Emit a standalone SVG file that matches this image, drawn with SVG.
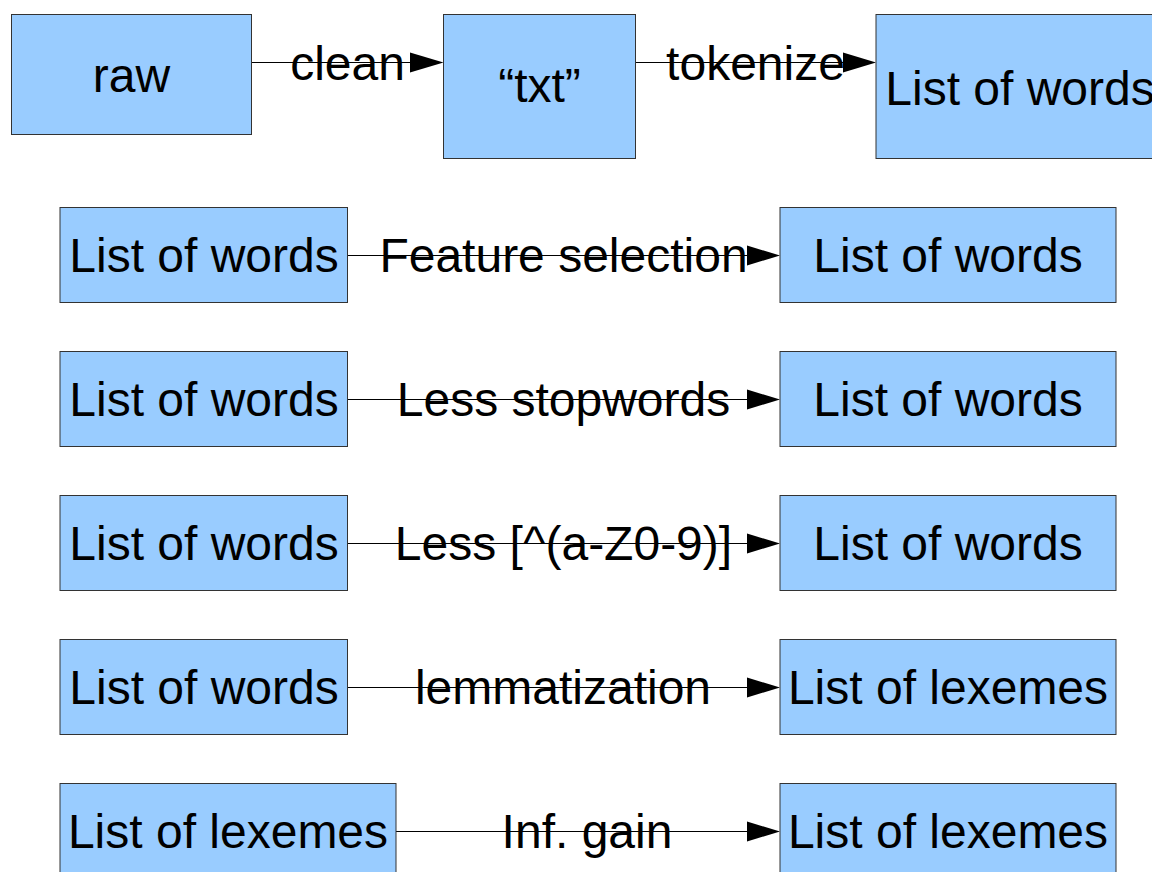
<svg xmlns="http://www.w3.org/2000/svg" width="1152" height="872" viewBox="0 0 1152 872">
<style>
.box{fill:#99ccff;stroke:#333333;stroke-width:1}
.t{font-family:"Liberation Sans",Arial,sans-serif;font-size:48px;fill:#000;text-anchor:middle}
.l{font-family:"Liberation Sans",Arial,sans-serif;font-size:48px;fill:#000;text-anchor:middle}
.c{stroke:#000;stroke-width:1;fill:none}
.ah{fill:#000}
</style>
<rect width="1152" height="872" fill="#ffffff"/>
<g id="connectors">
<line class="c" x1="251.5" y1="62.5" x2="412" y2="62.5"/><polygon class="ah" points="443.5,62.5 410,52.5 410,72.5"/>
<line class="c" x1="635.5" y1="62.5" x2="845" y2="62.5"/><polygon class="ah" points="876,62.5 843,52.5 843,72.5"/>
<line class="c" x1="347.5" y1="255.5" x2="750" y2="255.5"/><polygon class="ah" points="780,255.5 747,245.5 747,265.5"/>
<line class="c" x1="347.5" y1="399.5" x2="750" y2="399.5"/><polygon class="ah" points="780,399.5 747,389.5 747,409.5"/>
<line class="c" x1="347.5" y1="543.5" x2="750" y2="543.5"/><polygon class="ah" points="780,543.5 747,533.5 747,553.5"/>
<line class="c" x1="347.5" y1="687.5" x2="750" y2="687.5"/><polygon class="ah" points="780,687.5 747,677.5 747,697.5"/>
<line class="c" x1="396" y1="831.5" x2="750" y2="831.5"/><polygon class="ah" points="780,831.5 747,821.5 747,841.5"/>
<text class="l" x="347.5" y="80">clean</text>
<text class="l" x="755.5" y="80">tokenize</text>
<text class="l" x="563.5" y="272">Feature selection</text>
<text class="l" x="563.5" y="416">Less stopwords</text>
<text class="l" x="563.5" y="560">Less [^(a-Z0-9)]</text>
<text class="l" x="563" y="704">lemmatization</text>
<text class="l" x="587" y="848">Inf. gain</text>
</g>
<g id="raw"><rect class="box" x="11.5" y="14.5" width="240" height="120"/><text class="t" x="131.5" y="92">raw</text></g>
<g id="txt"><rect class="box" x="443.5" y="14.5" width="192" height="144"/><text class="t" x="539.5" y="102">“txt”</text></g>
<g id="words0"><rect class="box" x="876" y="14.5" width="300" height="144"/><text class="t" x="1020" y="105">List of words</text></g>
<g id="words1a"><rect class="box" x="60" y="207.5" width="287.5" height="95"/><text class="t" x="204" y="272">List of words</text></g>
<g id="words1b"><rect class="box" x="780" y="207.5" width="336" height="95"/><text class="t" x="948" y="272">List of words</text></g>
<g id="words2a"><rect class="box" x="60" y="351.5" width="287.5" height="95"/><text class="t" x="204" y="416">List of words</text></g>
<g id="words2b"><rect class="box" x="780" y="351.5" width="336" height="95"/><text class="t" x="948" y="416">List of words</text></g>
<g id="words3a"><rect class="box" x="60" y="495.5" width="287.5" height="95"/><text class="t" x="204" y="560">List of words</text></g>
<g id="words3b"><rect class="box" x="780" y="495.5" width="336" height="95"/><text class="t" x="948" y="560">List of words</text></g>
<g id="words4a"><rect class="box" x="60" y="639.5" width="287.5" height="95"/><text class="t" x="204" y="704">List of words</text></g>
<g id="lex4b"><rect class="box" x="780" y="639.5" width="336" height="95"/><text class="t" x="948" y="704">List of lexemes</text></g>
<g id="lex5a"><rect class="box" x="60" y="783.5" width="336" height="95"/><text class="t" x="228" y="848">List of lexemes</text></g>
<g id="lex5b"><rect class="box" x="780" y="783.5" width="336" height="95"/><text class="t" x="948" y="848">List of lexemes</text></g>
</svg>
